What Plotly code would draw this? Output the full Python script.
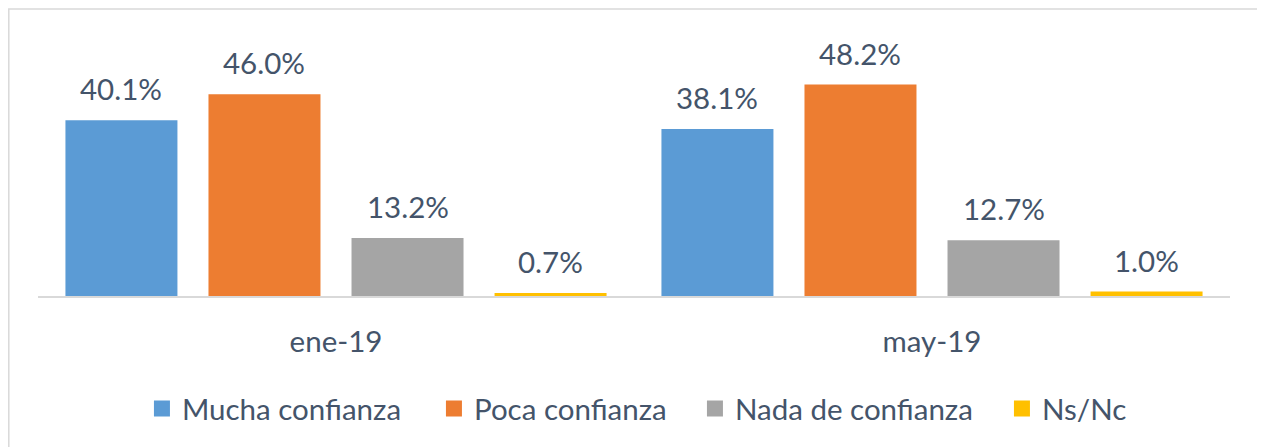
import plotly.graph_objects as go

# Data
periods = ['ene-19', 'may-19']
series_names = ['Mucha confianza', 'Poca confianza', 'Nada de confianza', 'Ns/Nc']
series_values = [
    [40.1, 38.1],
    [46.0, 48.2],
    [13.2, 12.7],
    [0.7, 1.0],
]
colors = ['#5B9BD5', '#ED7D31', '#A5A5A5', '#FFC000']
legend_widths = [247, 216, 262, 90]

text_color = '#44546A'
font_family = 'Lato, Carlito, Calibri, sans-serif'
font_size = 29.5
bargap = 0.04
bargroupgap = 0.217

fig = go.Figure()
for name, vals, col in zip(series_names, series_values, colors):
    fig.add_trace(go.Bar(
        x=periods, y=vals, name=name, showlegend=False,
        marker=dict(color=col, line=dict(width=0)),
    ))

# legend-only entries, so the swatches can be bigger squares
for name, col, lw in zip(series_names, colors, legend_widths):
    fig.add_trace(go.Scatter(
        x=[None], y=[None], name=name, mode='markers', legendwidth=lw,
        marker=dict(symbol='square', size=16, color=col),
    ))

# value labels above each bar, placed at the grouped bar centres
n = len(series_names)
slot = (1 - bargap) / n
annotations = []
for i, vals in enumerate(series_values):
    offset = (i - (n - 1) / 2) * slot
    for j, v in enumerate(vals):
        annotations.append(dict(
            x=j + offset, y=v, xref='x', yref='y',
            text=f'{v:.1f}%', showarrow=False,
            yanchor='bottom', yshift=12,
            font=dict(size=font_size, color=text_color, family=font_family),
        ))

# the page body adds an 8px margin, so the figure is 8px smaller than the window
fig.update_layout(
    width=1257, height=439,
    margin=dict(l=30, r=35, t=22, b=148),
    paper_bgcolor='white', plot_bgcolor='white',
    barmode='group', bargap=bargap, bargroupgap=bargroupgap,
    font=dict(family=font_family, size=font_size, color=text_color),
    annotations=annotations,
    showlegend=True,
    legend=dict(
        orientation='h', x=0.0872, xanchor='left', y=-0.424, yanchor='middle',
        font=dict(size=font_size, color=text_color),
        itemsizing='trace', bgcolor='rgba(0,0,0,0)',
    ),
    shapes=[dict(
        type='rect', xref='paper', yref='paper',
        x0=-0.0245, x1=1.0268, y0=-0.58, y1=1.079,
        line=dict(color='#D9D9D9', width=1.5), fillcolor='rgba(0,0,0,0)',
        layer='below',
    )],
)
fig.update_xaxes(
    type='category', showline=True, linecolor='#D9D9D9', linewidth=1.5,
    showgrid=False, ticks='', ticklabelstandoff=19,
    tickfont=dict(size=font_size, color=text_color),
)
fig.update_yaxes(
    range=[0, 60.65], visible=False, showgrid=False, zeroline=False,
)

fig.write_html("out.html")
